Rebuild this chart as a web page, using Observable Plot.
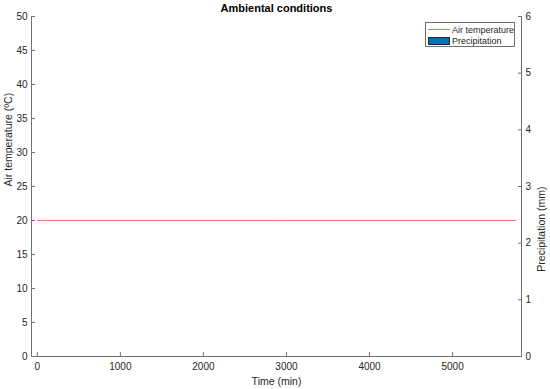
<!DOCTYPE html>
<html>
<head>
<meta charset="utf-8">
<script src="https://cdn.jsdelivr.net/npm/d3@7"></script>
<script src="https://cdn.jsdelivr.net/npm/@observablehq/plot@0.6"></script>
<style>
  html, body { margin: 0; padding: 0; background: #fff; }
  #wrap { position: relative; width: 550px; height: 389px; font-family: "Liberation Sans", Arial, Helvetica, sans-serif; }
  #legend { position: absolute; left: 425px; top: 22px; width: 90px; height: 25px; border: 1px solid #707070; background: #fff; box-sizing: border-box; font-size: 9px; color: #262626; white-space: nowrap; }
  .row { position: absolute; left: 2px; height: 11px; display: flex; align-items: center; white-space: nowrap; }
  .sw { width: 22px; margin-right: 2px; flex: none; }
</style>
</head>
<body>
<div id="wrap"></div>
<script>
// Data
const timeMin = [0, 1440, 2880, 4320, 5760];
const airTemp = [20, 20, 20, 20, 20];
const precip = [0, 0, 0, 0, 0];
const xTicks = [0, 1000, 2000, 3000, 4000, 5000];
const tempTicks = [0, 5, 10, 15, 20, 25, 30, 35, 40, 45, 50];
const precipTicks = [0, 1, 2, 3, 4, 5, 6];
const xDomain = [-70, 5830];
const tempDomain = [0, 50];
const precipDomain = [0, 6];
const titleText = "Ambiental conditions";
const xLabel = "Time (min)";
const yLabelLeft = "Air temperature (ºC)";
const yLabelRight = "Precipitation (mm)";
const seriesNames = ["Air temperature", "Precipitation"];

const k = tempDomain[1] / precipDomain[1];
const rows = timeMin.map((t, i) => ({t, temp: airTemp[i], p: precip[i] * k}));

const axisColor = "#707070";
const textColor = "#262626";
const lineColor = "#e47c66";
const font = '"Liberation Sans", Arial, Helvetica, sans-serif';

const chart = Plot.plot({
  width: 550,
  height: 389,
  marginLeft: 31,
  marginRight: 29,
  marginTop: 16,
  marginBottom: 33,
  style: {fontFamily: font, fontSize: "10px", color: textColor, background: "#fff"},
  x: {domain: xDomain},
  y: {domain: tempDomain},
  marks: [
    Plot.rectY(rows, {x1: d => d.t - 20, x2: d => d.t + 20, y1: 0, y2: "p", fill: "#0072BD"}),
    Plot.line(rows, {x: "t", y: "temp", stroke: lineColor, strokeWidth: 1}),
    Plot.ruleY([tempDomain[0]], {stroke: axisColor}),
    Plot.ruleX([xDomain[0]], {stroke: axisColor}),
    Plot.ruleX([xDomain[1]], {stroke: axisColor}),
    Plot.axisX(xTicks, {anchor: "bottom", tickSize: -4, tickPadding: 10, stroke: axisColor, fill: textColor, label: null, fontSize: 10, tickFormat: d => String(d)}),
    Plot.axisY(tempTicks, {anchor: "left", tickSize: -4, tickPadding: 8, stroke: axisColor, fill: textColor, label: null, fontSize: 10, tickFormat: d => String(d)}),
    Plot.axisY(precipTicks.map(v => v * k), {anchor: "right", tickSize: -4, tickPadding: 8, stroke: axisColor, fill: textColor, label: null, fontSize: 10, tickFormat: d => String(Math.round(d / k))}),
    Plot.text([titleText], {frameAnchor: "top", dy: -8, text: d => d, fontWeight: "bold", fontSize: 11, fill: "#000", lineAnchor: "middle"}),
    Plot.text([xLabel], {frameAnchor: "bottom", dy: 25, text: d => d, fontSize: 10.5, fill: textColor, lineAnchor: "middle"}),
    Plot.text([yLabelLeft], {frameAnchor: "left", dx: -23, rotate: -90, text: d => d, fontSize: 10.5, fill: textColor, lineAnchor: "middle"}),
    Plot.text([yLabelRight], {frameAnchor: "right", dx: 20, rotate: -90, text: d => d, fontSize: 10.5, fill: textColor, lineAnchor: "middle"})
  ]
});
const wrap = document.getElementById("wrap");
wrap.appendChild(chart);

const legend = document.createElement("div");
legend.id = "legend";
legend.innerHTML = `
  <div class="row" style="top:1px"><div class="sw" style="height:0;border-top:1px solid ${lineColor}"></div><span>${seriesNames[0]}</span></div>
  <div class="row" style="top:12px"><div class="sw" style="height:8px;background:#0072BD;border:1px solid #262626;box-sizing:border-box"></div><span>${seriesNames[1]}</span></div>`;
wrap.appendChild(legend);
</script>
</body>
</html>
